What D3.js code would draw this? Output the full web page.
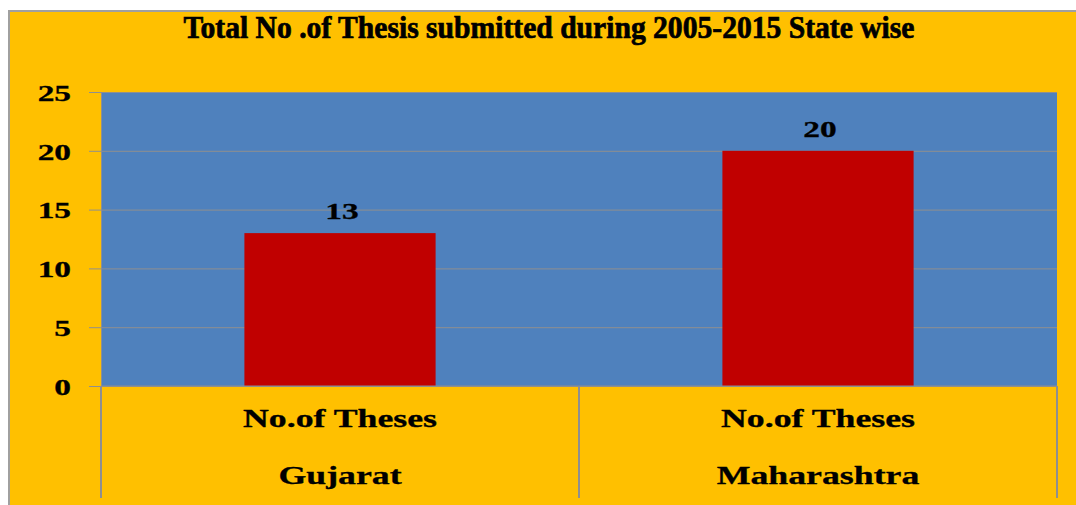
<!DOCTYPE html>
<html>
<head>
<meta charset="utf-8">
<script src="https://cdn.jsdelivr.net/npm/d3@7"></script>
<style>
  body { margin: 0; background: #fff; }
  text { font-family: "Liberation Serif", "Times New Roman", serif; font-weight: bold; fill: #000; }
</style>
</head>
<body>
<svg id="chart" width="1076" height="505"></svg>
<script>
// data
const categories = ["Gujarat", "Maharashtra"];
const seriesName = "No.of Theses";
const theses = [13, 20];
const yTicks = [0, 5, 10, 15, 20, 25];
const title = "Total No .of Thesis submitted during 2005-2015 State wise";

const svg = d3.select("#chart");
const plot = { left: 101, right: 1057, top: 92, bottom: 386 };

// stretch text sideways like the original (wide bold serif)
function widen(sel, k) {
  sel.each(function () {
    const w = this.getComputedTextLength();
    d3.select(this).attr("textLength", w * k).attr("lengthAdjust", "spacingAndGlyphs");
  });
}

// chart background
svg.append("rect")
  .attr("x", 9).attr("y", 11)
  .attr("width", 1080).attr("height", 500)
  .attr("fill", "#FFC000")
  .attr("stroke", "#a0a0a0").attr("stroke-width", 2);

// title is squeezed, heavy
svg.append("text")
  .attr("x", 549).attr("y", 38)
  .attr("text-anchor", "middle")
  .attr("font-size", 31)
  .attr("stroke", "#000").attr("stroke-width", 0.7)
  .attr("textLength", 731).attr("lengthAdjust", "spacingAndGlyphs")
  .text(title);

const x = d3.scaleBand().domain(categories).range([plot.left, plot.right]);
const y = d3.scaleLinear().domain([0, 25]).range([plot.bottom, plot.top]);

// plot area
svg.append("rect")
  .attr("x", plot.left).attr("y", plot.top)
  .attr("width", plot.right - plot.left).attr("height", plot.bottom - plot.top)
  .attr("fill", "#4F81BD");

// gridlines
svg.append("g")
  .attr("transform", `translate(${plot.left},0)`)
  .call(d3.axisLeft(y).tickValues(yTicks).tickSize(-(plot.right - plot.left)).tickFormat(""))
  .call(g => g.select(".domain").remove())
  .selectAll("line").attr("stroke", "#8f8f8f").attr("stroke-width", 1);

// bars
const barW = x.bandwidth() * 0.4;
svg.append("g").selectAll("rect")
  .data(theses)
  .join("rect")
  .attr("x", (d, i) => x(categories[i]) + (x.bandwidth() - barW) / 2)
  .attr("y", d => y(d))
  .attr("width", barW)
  .attr("height", d => y(0) - y(d))
  .attr("fill", "#C00000");

// value labels
svg.append("g").selectAll("text")
  .data(theses)
  .join("text")
  .attr("x", (d, i) => x(categories[i]) + x.bandwidth() / 2 + 2)
  .attr("y", d => y(d) - 14)
  .attr("text-anchor", "middle")
  .attr("font-size", 23)
  .attr("stroke", "#000").attr("stroke-width", 0.3)
  .text(d => d)
  .call(widen, 1.45);

// y axis
const yAxis = svg.append("g")
  .attr("transform", `translate(${plot.left},0)`)
  .call(d3.axisLeft(y).tickValues(yTicks).tickSize(12).tickPadding(18))
  .call(g => g.select(".domain").attr("stroke", "#8f8f8f"));
yAxis.selectAll(".tick line").attr("stroke", "#8f8f8f");
yAxis.selectAll(".tick text")
  .attr("font-size", 23)
  .attr("font-family", null)
  .attr("dy", "0.36em")
  .attr("stroke", "#000").attr("stroke-width", 0.3)
  .call(widen, 1.45);

// x axis line and category dividers
svg.append("line")
  .attr("x1", plot.left).attr("x2", plot.right)
  .attr("y1", plot.bottom).attr("y2", plot.bottom)
  .attr("stroke", "#8f8f8f");

const dividers = categories.map(c => x(c)).concat([plot.right]);
svg.append("g").selectAll("line")
  .data(dividers)
  .join("line")
  .attr("x1", d => d).attr("x2", d => d)
  .attr("y1", plot.bottom).attr("y2", 498)
  .attr("stroke", "#8f8f8f").attr("stroke-width", 2);

// category labels (two levels)
const cat = svg.append("g").selectAll("g")
  .data(categories)
  .join("g")
  .attr("transform", d => `translate(${x(d) + x.bandwidth() / 2},0)`);

cat.append("text")
  .attr("y", 427)
  .attr("text-anchor", "middle")
  .attr("font-size", 25)
  .attr("stroke", "#000").attr("stroke-width", 0.3)
  .text(seriesName)
  .call(widen, 1.43);

cat.append("text")
  .attr("y", 484)
  .attr("text-anchor", "middle")
  .attr("font-size", 25)
  .attr("stroke", "#000").attr("stroke-width", 0.3)
  .text(d => d)
  .call(widen, 1.43);
</script>
</body>
</html>
